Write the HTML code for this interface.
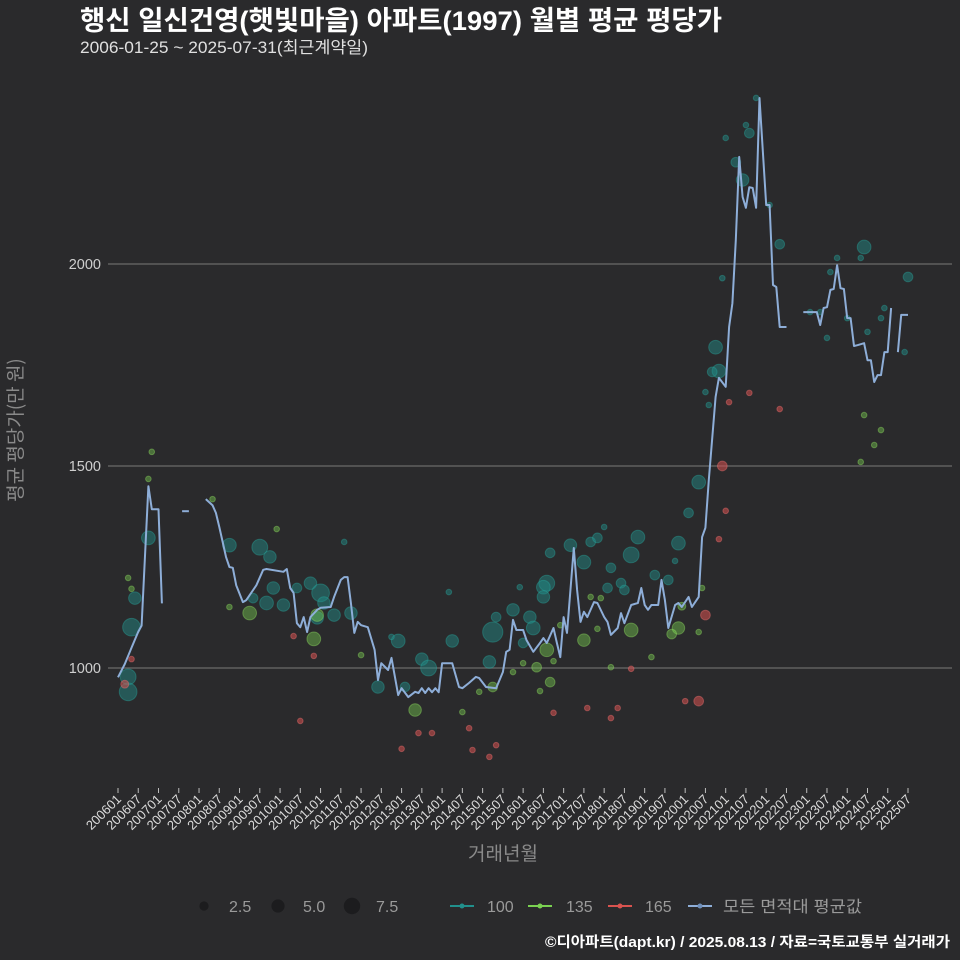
<!DOCTYPE html>
<html><head><meta charset="utf-8">
<style>
html,body{margin:0;padding:0;background:#2a2a2c;}
svg{display:block;font-family:"Liberation Sans","Noto Sans CJK KR",sans-serif;}
</style></head>
<body>
<svg id="chart" width="960" height="960" viewBox="0 0 960 960" xmlns="http://www.w3.org/2000/svg">
<rect x="0" y="0" width="960" height="960" fill="#2a2a2c"/>
<text x="80" y="30" fill="#ffffff" font-size="27" font-weight="bold" textLength="642" lengthAdjust="spacingAndGlyphs">행신 일신건영(햇빛마을) 아파트(1997) 월별 평균 평당가</text>
<text x="80" y="53" fill="#e0e0e0" font-size="16.5" textLength="288" lengthAdjust="spacingAndGlyphs">2006-01-25 ~ 2025-07-31(최근계약일)</text>
<g id="grid"></g>
<g id="yticks"></g>
<g id="bubbles"></g>
<g id="line"></g>
<g id="xticks"></g>
<g transform="translate(22 430) rotate(-90)">
<text x="0" y="0" fill="#8a8a8a" font-size="19" text-anchor="middle" style="font-family:'Noto Sans CJK KR','Liberation Sans',sans-serif">평균 평당가(만 원)</text>
</g>
<text x="503" y="860" fill="#8a8a8a" font-size="19" text-anchor="middle">거래년월</text>
<g id="legend">
  <g><circle cx="204" cy="906" r="4.6" fill="#1c1c1e"/><text x="229" y="912" fill="#9a9a9a" font-size="16">2.5</text></g>
  <g><circle cx="278" cy="906" r="6.6" fill="#1c1c1e"/><text x="303" y="912" fill="#9a9a9a" font-size="16">5.0</text></g>
  <g><circle cx="352" cy="906" r="8.2" fill="#1c1c1e"/><text x="376" y="912" fill="#9a9a9a" font-size="16">7.5</text></g>
  <g><line x1="450" y1="906" x2="474" y2="906" stroke="#21908c" stroke-width="2"/><circle cx="462" cy="906" r="2.5" fill="#21908c"/><text x="487" y="912" fill="#9a9a9a" font-size="16">100</text></g>
  <g><line x1="528" y1="906" x2="552" y2="906" stroke="#7ad151" stroke-width="2"/><circle cx="540" cy="906" r="2.5" fill="#7ad151"/><text x="566" y="912" fill="#9a9a9a" font-size="16">135</text></g>
  <g><line x1="608" y1="906" x2="632" y2="906" stroke="#d9534f" stroke-width="2"/><circle cx="620" cy="906" r="2.5" fill="#d9534f"/><text x="645" y="912" fill="#9a9a9a" font-size="16">165</text></g>
  <g><line x1="688" y1="906" x2="712" y2="906" stroke="#8eaed8" stroke-width="2"/><circle cx="700" cy="906" r="2.5" fill="#6f8fba"/><text x="723" y="912" fill="#9a9a9a" font-size="16" textLength="139" lengthAdjust="spacingAndGlyphs">모든 면적대 평균값</text></g>
</g>
<text x="950" y="947" fill="#ffffff" font-size="14.5" font-weight="bold" text-anchor="end" textLength="405" lengthAdjust="spacingAndGlyphs">©디아파트(dapt.kr) / 2025.08.13 / 자료=국토교통부 실거래가</text>
</svg>
<script>
const yTicks = [1000, 1500, 2000];
const xTickLabels = ["200601","200607","200701","200707","200801","200807","200901","200907","201001","201007","201101","201107","201201","201207","201301","201307","201401","201407","201501","201507","201601","201607","201701","201707","201801","201807","201901","201907","202001","202007","202101","202107","202201","202207","202301","202307","202401","202407","202501","202507"];
// average line segments: months since 2006-01, values
const seg1Months = [0,2,4,6,7,9,10,11,12,13];
const seg1Values = [977,1010,1050,1090,1105,1450,1393,1393,1393,1160];
const seg2Months = [19,21];
const seg2Values = [1388,1388];
const seg3Months = [26,28,29,30,32,33,34,35,37,38,41,43,44,49,50,51,52,53,54,55,56,57,59,60,63,64,66,67,68,69,70,71,72,74,76,77,78,80,81,83,84,86,88,89,90,91,92,93,94,95,96,99,101,102,104,106,107,109,112,114,115,116,117,118,120,121,123,125,126,127,129,130,131,132,133,135,136,137,138,139,141,142,144,145,146,148,149,150,152,154,155,156,157,158,160,161,162,163,165,166,167,169,170,172,173,174,175,177,178,180,181,182,183,184,185,186,187,188,189,190,192,193,194,195,196,198];
const seg3Values = [1418,1403,1384,1349,1275,1250,1248,1205,1163,1168,1205,1243,1245,1238,1245,1198,1186,1111,1101,1126,1089,1126,1144,1149,1151,1176,1218,1225,1225,1161,1087,1114,1106,1101,1045,970,1012,995,1025,933,950,928,941,938,950,938,950,940,950,940,1012,1012,953,950,963,978,975,953,950,990,1040,1045,1119,1094,1094,1069,1040,1062,1074,1062,1099,1062,1027,1126,1087,1297,1193,1114,1139,1126,1163,1161,1126,1114,1082,1099,1136,1111,1156,1161,1198,1156,1144,1156,1156,1218,1168,1099,1156,1161,1151,1176,1151,1176,1324,1347,1465,1671,1718,1696,1844,1903,2059,2265,2166,2139,2190,2188,2139,2411,2146,2146,1948,1943,1844,1844];
const seg4Months = [203,207,208,209,210,211,212,213,214,215,216,217,218,219,221,222,223,224,225,226,227,228,229];
const seg4Values = [1881,1881,1849,1891,1893,1936,1938,1997,1940,1938,1866,1866,1797,1799,1804,1762,1762,1708,1725,1725,1782,1782,1891];
const seg5Months = [231,232,234];
const seg5Values = [1782,1874,1874];
// bubbles: months, values, sizes (transactions) per area type
const teal100Months = [4,3,3,5,9,33,42,45,49,44,46,57,60,40,53,59,61,69,64,83,99,90,92,111,110,112,85,77,67,98,81,117,122,123,120,127,126,126,128,134,138,140,142,146,145,149,150,152,154,159,163,166,169,172,119,144,165,189,186,187,180,183,185,196,221,220,234,213,211,179,177,178,176,174,175,205,208,210,216,222,227,226,233,193];
const teal100Values = [1101,978,941,1173,1322,1304,1299,1275,1156,1161,1198,1210,1186,1173,1198,1124,1161,1136,1131,1067,1067,1022,1000,1089,1015,1126,953,953,1312,1188,1077,1144,1126,1099,1062,1210,1200,1176,1285,1304,1262,1312,1322,1248,1198,1210,1193,1280,1324,1230,1218,1309,1384,1460,1200,1349,1265,2411,2344,2324,2312,2252,2208,2049,2042,2015,1968,2015,1980,1965,1794,1735,1733,1683,1651,1881,1881,1817,1866,1832,1891,1866,1782,2146];
const teal100Sizes = [10,8,10,5,6,6,8,5,5,6,5,5,10,3,3,5,5,5,5,6,5,5,8,13,5,3,3,5,1,1,1,5,5,6,3,8,6,5,3,5,6,3,3,3,3,3,3,8,6,3,3,6,3,6,1,1,1,1,1,3,1,3,5,3,6,1,3,1,1,1,6,6,3,1,1,1,1,1,1,1,1,1,1,1];
const green135Months = [28,47,33,39,58,59,72,88,111,102,107,3,4,9,10,127,124,128,138,152,166,164,167,117,120,125,129,131,140,143,142,146,158,172,173,221,226,224,220];
const green135Values = [1418,1344,1151,1136,1072,1131,1032,896,953,891,941,1223,1196,1468,1535,1045,1002,965,1069,1094,1099,1084,1153,990,1012,943,1017,1106,1176,1173,1097,1002,1027,1089,1198,1626,1589,1552,1510];
const green135Sizes = [1,1,1,6,6,5,1,5,3,1,1,1,1,1,1,6,3,3,5,6,5,3,2,1,1,1,1,1,1,1,1,1,1,1,1,1,1,1,1];
const red165Months = [2,4,52,58,54,89,93,84,104,105,110,112,174,172,180,178,152,168,129,139,148,146,179,187,181,196];
const red165Values = [960,1022,1079,1030,869,839,839,800,851,797,780,809,1131,918,1389,1319,998,918,889,901,901,876,1500,1681,1658,1641];
const red165Sizes = [2,1,1,1,1,1,1,1,1,1,1,1,3,3,1,1,1,1,1,1,1,1,3,1,1,1];

const NS = "http://www.w3.org/2000/svg";
const X0 = 118, X1 = 908, M1 = 234;
function xScale(m){ return X0 + (X1 - X0) * m / M1; }
function yScale(v){ return 668 - (v - 1000) * 0.404; }
function rScale(s){ return 2.8 * Math.sqrt(s); }
function mk(tag, attrs){ const e = document.createElementNS(NS, tag); for (const k in attrs) e.setAttribute(k, attrs[k]); return e; }

const grid = document.getElementById('grid');
const yt = document.getElementById('yticks');
yTicks.forEach(v => {
  const l = mk('line', {x1: 108, x2: 952, y1: yScale(v), y2: yScale(v), stroke: '#6a6a6a', 'stroke-width': 1.2});
  
  
  grid.appendChild(l);
  const t = mk('text', {x: 101, y: yScale(v) + 5, fill: '#cfcfcf', 'font-size': 14.5, 'text-anchor': 'end'});
  t.textContent = v;
  
  
  yt.appendChild(t);
});

const xt = document.getElementById('xticks');
xTickLabels.forEach((lab, i) => {
  const x = xScale(i * 6);
  const tk = mk('line', {x1: x, x2: x, y1: 788, y2: 793, stroke: '#bdbdbd', 'stroke-width': 1});
  
  
  xt.appendChild(tk);
  const t = mk('text', {x: x + 4, y: 800, fill: '#dcdcdc', 'font-size': 13, 'text-anchor': 'end', transform: 'rotate(-45 ' + (x + 4) + ' 800)'});
  t.textContent = lab;
  
  
  xt.appendChild(t);
});

const bg = document.getElementById('bubbles');
function drawBubbles(ms, vs, ss, fill, stroke, name){
  ms.forEach((m, i) => {
    const c = mk('circle', {cx: xScale(m), cy: yScale(vs[i]), r: rScale(ss[i]), fill: fill, stroke: stroke, 'stroke-width': 1});
    
    
    bg.appendChild(c);
  });
}
drawBubbles(teal100Months, teal100Values, teal100Sizes, 'rgba(33,144,140,0.45)', 'rgba(40,170,160,0.4)', 'bubble-100');
drawBubbles(green135Months, green135Values, green135Sizes, 'rgba(122,209,81,0.42)', 'rgba(150,230,100,0.4)', 'bubble-135');
drawBubbles(red165Months, red165Values, red165Sizes, 'rgba(215,80,80,0.55)', 'rgba(235,110,110,0.45)', 'bubble-165');

const lg = document.getElementById('line');
[[seg1Months, seg1Values],[seg2Months, seg2Values],[seg3Months, seg3Values],[seg4Months, seg4Values],[seg5Months, seg5Values]].forEach((s, k) => {
  const d = s[0].map((m, i) => (i ? 'L' : 'M') + xScale(m).toFixed(1) + ' ' + yScale(s[1][i]).toFixed(1)).join(' ');
  const p = mk('path', {d: d, fill: 'none', stroke: '#8eaed8', 'stroke-width': 2, 'stroke-linejoin': 'round'});
  
  
  lg.appendChild(p);
});
</script>
</body></html>
